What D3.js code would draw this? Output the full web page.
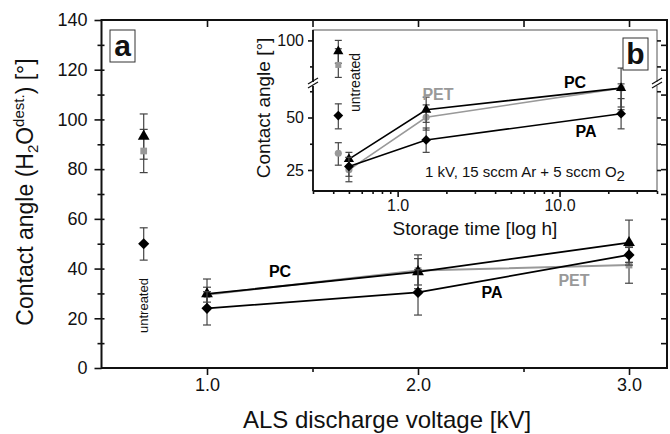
<!DOCTYPE html>
<html>
<head>
<meta charset="utf-8">
<script src="https://cdn.jsdelivr.net/npm/d3@7"></script>
<style>
  body { margin: 0; background: #fff; }
  svg { display: block; font-family: "Liberation Sans", Arial, sans-serif; }
  .axis text { fill: #111; }
  .axis path { display: none; }
  .axis line { stroke: #111; stroke-width: 1.6; }
</style>
</head>
<body>
<div id="chart"></div>
<script>
// --- main chart (a): contact angle vs discharge voltage ---
const voltages = [1.0, 2.0, 3.0];
const untreatedVoltageX = 0.7;
const voltageTicks = [1.0, 2.0, 3.0];
const angleTicks = [0, 20, 40, 60, 80, 100, 120, 140];

const mainPC = [29.8, 38.7, 50.4];
const mainPCLo = [23.8, 31.9, 41.4];
const mainPCHi = [35.8, 45.5, 59.5];
const mainPET = [29.5, 39.2, 41.4];
const mainPETLo = [26.5, 33.4, 34.1];
const mainPETHi = [32.5, 44.0, 48.7];
const mainPA = [24.0, 30.4, 45.5];
const mainPALo = [17.3, 21.3, 42.5];
const mainPAHi = [30.7, 39.5, 48.5];

// untreated: PC, PET, PA
const mainUntreated = [93.2, 87.3, 50.0];
const mainUntreatedLo = [84.0, 78.6, 43.4];
const mainUntreatedHi = [102.2, 96.0, 56.4];

// --- inset (b): contact angle vs storage time ---
const storageTimes = [0.5, 1.5, 24];
const untreatedTimeX = 0.43;
const timeTicks = [1, 10];
const insetAngleTicks = [25, 50, 100];

const insetPC = [30.2, 53.7, 64.0];
const insetPCLo = [27.0, 47.7, 53.7];
const insetPCHi = [33.4, 59.7, 86.7];
const insetPET = [25.1, 50.1, 64.0];
const insetPETLo = [19.4, 44.0, 55.0];
const insetPETHi = [31.0, 56.0, 73.0];
const insetPA = [26.7, 39.3, 51.8];
const insetPALo = [22.0, 33.4, 44.6];
const insetPAHi = [31.0, 45.0, 59.0];

// untreated: PC (triangle), PET (square), PA (diamond), PET (circle)
const insetUntreated = [94.7, 88.2, 50.9, 33.0];
const insetUntreatedLo = [89.0, 82.2, 44.6, 27.3];
const insetUntreatedHi = [100.0, 96.0, 56.5, 38.0];

const W = 670, H = 434;
const gray = "#999";

const svg = d3.select("#chart").append("svg")
    .attr("width", W)
    .attr("height", H);

const x = d3.scaleLinear().domain([0.5, 3.18]).range([101.5, 667]);
const y = d3.scaleLinear().domain([0, 140]).range([368, 20]);

function marker(type, size) {
    if (type === "triangle") return d3.symbol(d3.symbolTriangle, size)();
    if (type === "circle") return d3.symbol(d3.symbolCircle, size)();
    return d3.symbol(d3.symbolSquare, size)();
}

function drawErr(g, px, lo, hi, sx, sy, cap, color) {
    g.append("line")
        .attr("x1", sx(px)).attr("x2", sx(px))
        .attr("y1", sy(lo)).attr("y2", sy(hi))
        .attr("stroke", color).attr("stroke-width", 1.2);
    [lo, hi].forEach(v => {
        g.append("line")
            .attr("x1", sx(px) - cap / 2).attr("x2", sx(px) + cap / 2)
            .attr("y1", sy(v)).attr("y2", sy(v))
            .attr("stroke", color).attr("stroke-width", 1.2);
    });
}

function drawPoint(g, px, py, sx, sy, type, size, color) {
    g.append("path")
        .attr("d", marker(type, size))
        .attr("transform", `translate(${sx(px)},${sy(py)})` + (type === "diamond" ? " rotate(45)" : ""))
        .attr("fill", color);
}

function drawSeries(g, xs, ys, lo, hi, sx, sy, opt) {
    const line = d3.line().x((d, i) => sx(xs[i])).y(d => sy(d));
    g.append("path")
        .attr("d", line(ys))
        .attr("fill", "none")
        .attr("stroke", opt.color)
        .attr("stroke-width", opt.lw);
    ys.forEach((v, i) => drawErr(g, xs[i], lo[i], hi[i], sx, sy, opt.cap, opt.errColor));
    ys.forEach((v, i) => drawPoint(g, xs[i], v, sx, sy, opt.type, opt.size, opt.color));
}

// ----- main plot -----
const main = svg.append("g");

drawSeries(main, voltages, mainPET, mainPETLo, mainPETHi, x, y,
    {color: gray, lw: 2, cap: 8, errColor: "#444", type: "square", size: 45});
drawSeries(main, voltages, mainPC, mainPCLo, mainPCHi, x, y,
    {color: "#000", lw: 1.8, cap: 8, errColor: "#444", type: "triangle", size: 60});
drawSeries(main, voltages, mainPA, mainPALo, mainPAHi, x, y,
    {color: "#000", lw: 1.8, cap: 8, errColor: "#444", type: "diamond", size: 62});

const untreatedTypes = ["triangle", "square", "diamond"];
const untreatedSizes = [60, 45, 62];
const untreatedColors = ["#000", gray, "#000"];
mainUntreated.forEach((v, i) => drawErr(main, untreatedVoltageX, mainUntreatedLo[i], mainUntreatedHi[i], x, y, 8, "#444"));
mainUntreated.forEach((v, i) => drawPoint(main, untreatedVoltageX, v, x, y, untreatedTypes[i], untreatedSizes[i], untreatedColors[i]));

// main axes
const ax = svg.append("g").attr("class", "axis");
ax.append("g").attr("transform", `translate(${x.range()[0]},0)`)
    .call(d3.axisLeft(y).tickValues(angleTicks).tickSize(7).tickPadding(7).tickSizeOuter(0))
    .selectAll("text").attr("font-size", 18);
ax.append("g").attr("transform", `translate(${x.range()[0]},0)`)
    .call(d3.axisLeft(y).tickValues(d3.range(10, 140, 20)).tickSize(4).tickFormat("").tickSizeOuter(0));
ax.append("g").attr("transform", `translate(${x.range()[0]},0)`)
    .call(d3.axisRight(y).tickValues(d3.range(10, 140, 10)).tickSize(3).tickFormat("").tickSizeOuter(0));
ax.append("g").attr("transform", `translate(0,${y(0)})`)
    .call(d3.axisBottom(x).tickValues(voltageTicks).tickFormat(d3.format(".1f")).tickSize(7).tickPadding(3).tickSizeOuter(0))
    .selectAll("text").attr("font-size", 18);
ax.append("g").attr("transform", `translate(0,${y(0)})`)
    .call(d3.axisBottom(x).tickValues([1.5, 2.5]).tickSize(4).tickFormat("").tickSizeOuter(0));
ax.append("g").attr("transform", `translate(0,${y(140)})`)
    .call(d3.axisBottom(x).tickValues([1, 1.5, 2, 2.5, 3]).tickSize(7).tickFormat("").tickSizeOuter(0));
ax.append("g").attr("transform", `translate(${x.range()[1]},0)`)
    .call(d3.axisLeft(y).tickValues(d3.range(10, 140, 10)).tickSize(6).tickFormat("").tickSizeOuter(0));

svg.append("rect")
    .attr("x", x.range()[0]).attr("y", y(140))
    .attr("width", x.range()[1] - x.range()[0])
    .attr("height", y(0) - y(140))
    .attr("fill", "none").attr("stroke", "#111").attr("stroke-width", 2);

// main labels
const yTitle = svg.append("text")
    .attr("transform", "translate(33,192) rotate(-90)")
    .attr("text-anchor", "middle")
    .attr("font-size", 23)
    .attr("fill", "#111");
yTitle.append("tspan").text("Contact angle (H");
yTitle.append("tspan").attr("font-size", 15).attr("dy", 5).text("2");
yTitle.append("tspan").attr("dy", -5).text("O");
yTitle.append("tspan").attr("font-size", 15).attr("dy", -9).text("dest.");
yTitle.append("tspan").attr("dy", 9).text(") [°]");

svg.append("text")
    .attr("x", 387).attr("y", 428)
    .attr("text-anchor", "middle")
    .attr("font-size", 24)
    .attr("fill", "#111")
    .text("ALS discharge voltage [kV]");

svg.append("text")
    .attr("transform", "translate(148,333) rotate(-90)")
    .attr("font-size", 13)
    .attr("fill", "#111")
    .text("untreated");

const mainLabels = [
    {t: "PC", x: 280, y: 277, c: "#000"},
    {t: "PA", x: 492, y: 298, c: "#000"},
    {t: "PET", x: 574, y: 286, c: gray}
];
mainLabels.forEach(d => svg.append("text")
    .attr("x", d.x).attr("y", d.y)
    .attr("text-anchor", "middle")
    .attr("font-size", 16).attr("font-weight", "bold")
    .attr("fill", d.c).text(d.t));

svg.append("rect").attr("x", 110).attr("y", 30).attr("width", 25).attr("height", 32)
    .attr("fill", "#fff").attr("stroke", "#333").attr("stroke-width", 1);
svg.append("text").attr("x", 122.5).attr("y", 56).attr("text-anchor", "middle")
    .attr("font-size", 30).attr("font-weight", "bold").attr("fill", "#111").text("a");

// ----- inset -----
const ix = d3.scaleLog().domain([0.3, 40]).range([313, 657]);
const iy = d3.scaleLinear().domain([15, 65, 80, 105]).range([191, 86, 82, 30]);

const inset = svg.append("g");
inset.append("rect")
    .attr("x", 313).attr("y", 30).attr("width", 344).attr("height", 161)
    .attr("fill", "#fff").attr("stroke", "#555").attr("stroke-width", 1);

drawSeries(inset, storageTimes, insetPET, insetPETLo, insetPETHi, ix, iy,
    {color: gray, lw: 1.6, cap: 7, errColor: "#444", type: "circle", size: 40});
drawSeries(inset, storageTimes, insetPC, insetPCLo, insetPCHi, ix, iy,
    {color: "#000", lw: 1.6, cap: 7, errColor: "#444", type: "triangle", size: 45});
drawSeries(inset, storageTimes, insetPA, insetPALo, insetPAHi, ix, iy,
    {color: "#000", lw: 1.6, cap: 7, errColor: "#444", type: "diamond", size: 48});

const insetTypes = ["triangle", "square", "diamond", "circle"];
const insetSizes = [45, 36, 48, 40];
const insetColors = ["#000", gray, "#000", gray];
insetUntreated.forEach((v, i) => drawErr(inset, untreatedTimeX, insetUntreatedLo[i], insetUntreatedHi[i], ix, iy, 7, "#444"));
insetUntreated.forEach((v, i) => drawPoint(inset, untreatedTimeX, v, ix, iy, insetTypes[i], insetSizes[i], insetColors[i]));

const iax = svg.append("g").attr("class", "axis");
iax.append("g").attr("transform", "translate(313,0)")
    .call(d3.axisLeft(iy).tickValues(insetAngleTicks).tickSize(5).tickPadding(4).tickSizeOuter(0))
    .selectAll("text").attr("font-size", 16);
iax.append("g").attr("transform", "translate(313,0)")
    .call(d3.axisLeft(iy).tickValues([37.5, 62.5, 87.5]).tickSize(3).tickFormat("").tickSizeOuter(0));
iax.append("g").attr("transform", "translate(657,0)")
    .call(d3.axisRight(iy).tickValues([25, 37.5, 50, 62.5, 87.5, 100]).tickSize(4).tickFormat("").tickSizeOuter(0));
iax.append("g").attr("transform", "translate(0,191)")
    .call(d3.axisBottom(ix).tickValues(timeTicks).tickFormat(d3.format(".1f")).tickSize(6).tickPadding(3).tickSizeOuter(0))
    .selectAll("text").attr("font-size", 16);
iax.append("g").attr("transform", "translate(0,191)")
    .call(d3.axisBottom(ix).tickValues([0.3, 0.4, 0.5, 0.6, 0.7, 0.8, 0.9, 2, 3, 4, 5, 6, 7, 8, 9, 20, 30, 40])
        .tickSize(3).tickFormat("").tickSizeOuter(0));
iax.selectAll("line").attr("stroke-width", 1.3);

inset.append("line").attr("x1", 313).attr("x2", 313).attr("y1", 30).attr("y2", 191)
    .attr("stroke", "#111").attr("stroke-width", 1.8);
inset.append("line").attr("x1", 313).attr("x2", 657).attr("y1", 191).attr("y2", 191)
    .attr("stroke", "#111").attr("stroke-width", 1.8);

// axis break marks
[313, 657].forEach(bx => {
    svg.append("rect").attr("x", bx - 3).attr("y", 82).attr("width", 6).attr("height", 4).attr("fill", "#fff");
    [0, 4].forEach(o => svg.append("line")
        .attr("x1", bx - 5).attr("y1", 86 + o - 2)
        .attr("x2", bx + 5).attr("y2", 80 + o - 2)
        .attr("stroke", "#111").attr("stroke-width", 1.2));
});

svg.append("text")
    .attr("transform", "translate(270,108) rotate(-90)")
    .attr("text-anchor", "middle")
    .attr("font-size", 19).attr("fill", "#111")
    .text("Contact angle [°]");

svg.append("text")
    .attr("x", 475).attr("y", 235).attr("text-anchor", "middle")
    .attr("font-size", 19).attr("fill", "#111")
    .text("Storage time [log h]");

svg.append("text")
    .attr("transform", "translate(360,112) rotate(-90)")
    .attr("font-size", 14).attr("fill", "#111")
    .text("untreated");

const cond = svg.append("text")
    .attr("x", 425).attr("y", 177)
    .attr("font-size", 15).attr("fill", "#111");
cond.append("tspan").text("1 kV, 15 sccm Ar + 5 sccm O");
cond.append("tspan").attr("dy", 4).attr("font-size", 15).text("2");

const insetLabels = [
    {t: "PC", x: 575, y: 88, c: "#000"},
    {t: "PA", x: 586, y: 137, c: "#000"},
    {t: "PET", x: 438, y: 100, c: gray}
];
insetLabels.forEach(d => svg.append("text")
    .attr("x", d.x).attr("y", d.y)
    .attr("text-anchor", "middle")
    .attr("font-size", 16).attr("font-weight", "bold")
    .attr("fill", d.c).text(d.t));

svg.append("rect").attr("x", 623).attr("y", 38).attr("width", 25).attr("height", 32)
    .attr("fill", "#fff").attr("stroke", "#333").attr("stroke-width", 1);
svg.append("text").attr("x", 635.5).attr("y", 64).attr("text-anchor", "middle")
    .attr("font-size", 30).attr("font-weight", "bold").attr("fill", "#111").text("b");
</script>
</body>
</html>
